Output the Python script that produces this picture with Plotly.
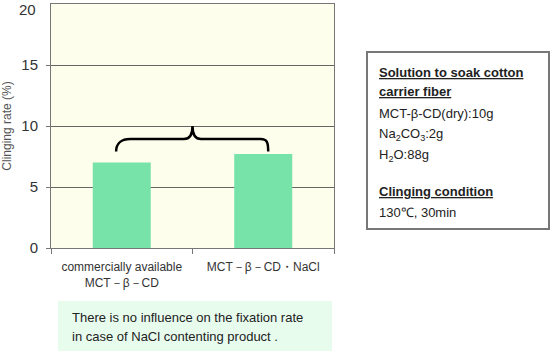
import plotly.graph_objects as go

categories = ["commercially available<br>MCT\uff0d\u03b2\uff0dCD", "MCT\uff0d\u03b2\uff0dCD\u30fbNaCl"]
values = [7.0, 7.7]
y_ticks = [0, 5, 10, 15, 20]
y_ticktext = ["0", "5", "10", "15", "20"]

W, H = 551, 351
L, R, T, B = 51, 334, 4, 248

def px(x):
    return (x - L) / (R - L)

def py(y):
    return (B - y) / (B - T)

fig = go.Figure()
fig.add_trace(go.Bar(x=[0, 1], y=values, marker=dict(color="#77E3A9", line=dict(width=0)),
                     width=0.41, hoverinfo="skip"))

font = "Liberation Sans, Arial, sans-serif"

fig.update_layout(
    width=W, height=H,
    margin=dict(l=L, r=W - R, t=T, b=H - B),
    paper_bgcolor="white", plot_bgcolor="#FEFEEC",
    showlegend=False,
    xaxis=dict(range=[-0.5, 1.5], tickvals=[0, 1], ticktext=categories, ticks="",
               tickfont=dict(size=12, color="#333", family=font), ticklabelstandoff=8,
               showgrid=False, showline=True, linecolor="#777", linewidth=1, mirror=True,
               zeroline=False, fixedrange=True, automargin=False,
               minor=dict(tickvals=[-0.5, 0.5, 1.5], ticks="outside", ticklen=5, tickcolor="#777", showgrid=False)),
    yaxis=dict(range=[0, 20], tickvals=y_ticks[:-1], ticktext=y_ticktext[:-1], ticks="outside", ticklen=4,
               tickcolor="#777", ticklabelstandoff=5,
               tickfont=dict(size=15, color="#333", family=font), ticklabeloverflow="allow",
               showgrid=True, gridcolor="#666", gridwidth=1, automargin=False,
               showline=True, linecolor="#777", linewidth=1, mirror=True, zeroline=False,
               title=dict(text="Clinging rate (%)", font=dict(size=12, color="#555", family=font), standoff=12)),
)

# top tick label placed inside the figure so it is not cut off
fig.add_annotation(xref="paper", yref="paper", x=px(37), y=py(0), text=y_ticktext[-1], showarrow=False,
                   xanchor="right", yanchor="top", borderpad=0,
                   font=dict(size=15, color="#333", family=font))

# brace
brace = ("M -0.04 7.9 C -0.04 8.6, 0.0 8.93, 0.06 8.93 "
         "L 0.44 8.93 C 0.48 8.93, 0.5 9.3, 0.5 10.0 "
         "C 0.5 9.3, 0.52 8.93, 0.56 8.93 "
         "L 0.98 8.93 C 1.03 8.93, 1.035 8.6, 1.035 7.9")
fig.add_shape(type="path", xref="x", yref="y", path=brace, line=dict(color="black", width=2.5))

# bottom note box
fig.add_shape(type="rect", xref="paper", yref="paper", x0=px(58), x1=px(332), y0=py(351), y1=py(301),
              fillcolor="#E8FCEE", line=dict(width=0), layer="below")
for txt, yy in [("There is no influence on the fixation rate", 317),
                ("in case of NaCl contenting product .", 336)]:
    fig.add_annotation(xref="paper", yref="paper", x=px(70), y=py(yy), text=txt, showarrow=False,
                       xanchor="left", yanchor="middle", font=dict(size=13, color="#222", family=font))

# right info box
fig.add_shape(type="rect", xref="paper", yref="paper", x0=px(367), x1=px(549), y0=py(229), y1=py(52),
              fillcolor="white", line=dict(color="#777", width=2))
lines = [
    ("<b><u>Solution to soak cotton</u></b>", 72),
    ("<b><u>carrier fiber</u></b>", 92),
    ("MCT-\u03b2-CD(dry):10g", 113),
    ("Na<sub>2</sub>CO<sub>3</sub>:2g", 134),
    ("H<sub>2</sub>O:88g", 155),
    ("<b><u>Clinging condition</u></b>", 191),
    ("130\u2103, 30min", 212),
]
for txt, yy in lines:
    fig.add_annotation(xref="paper", yref="paper", x=px(377), y=py(yy), text=txt, showarrow=False,
                       xanchor="left", yanchor="middle", font=dict(size=13, color="#222", family=font))

fig.write_html("out.html")
